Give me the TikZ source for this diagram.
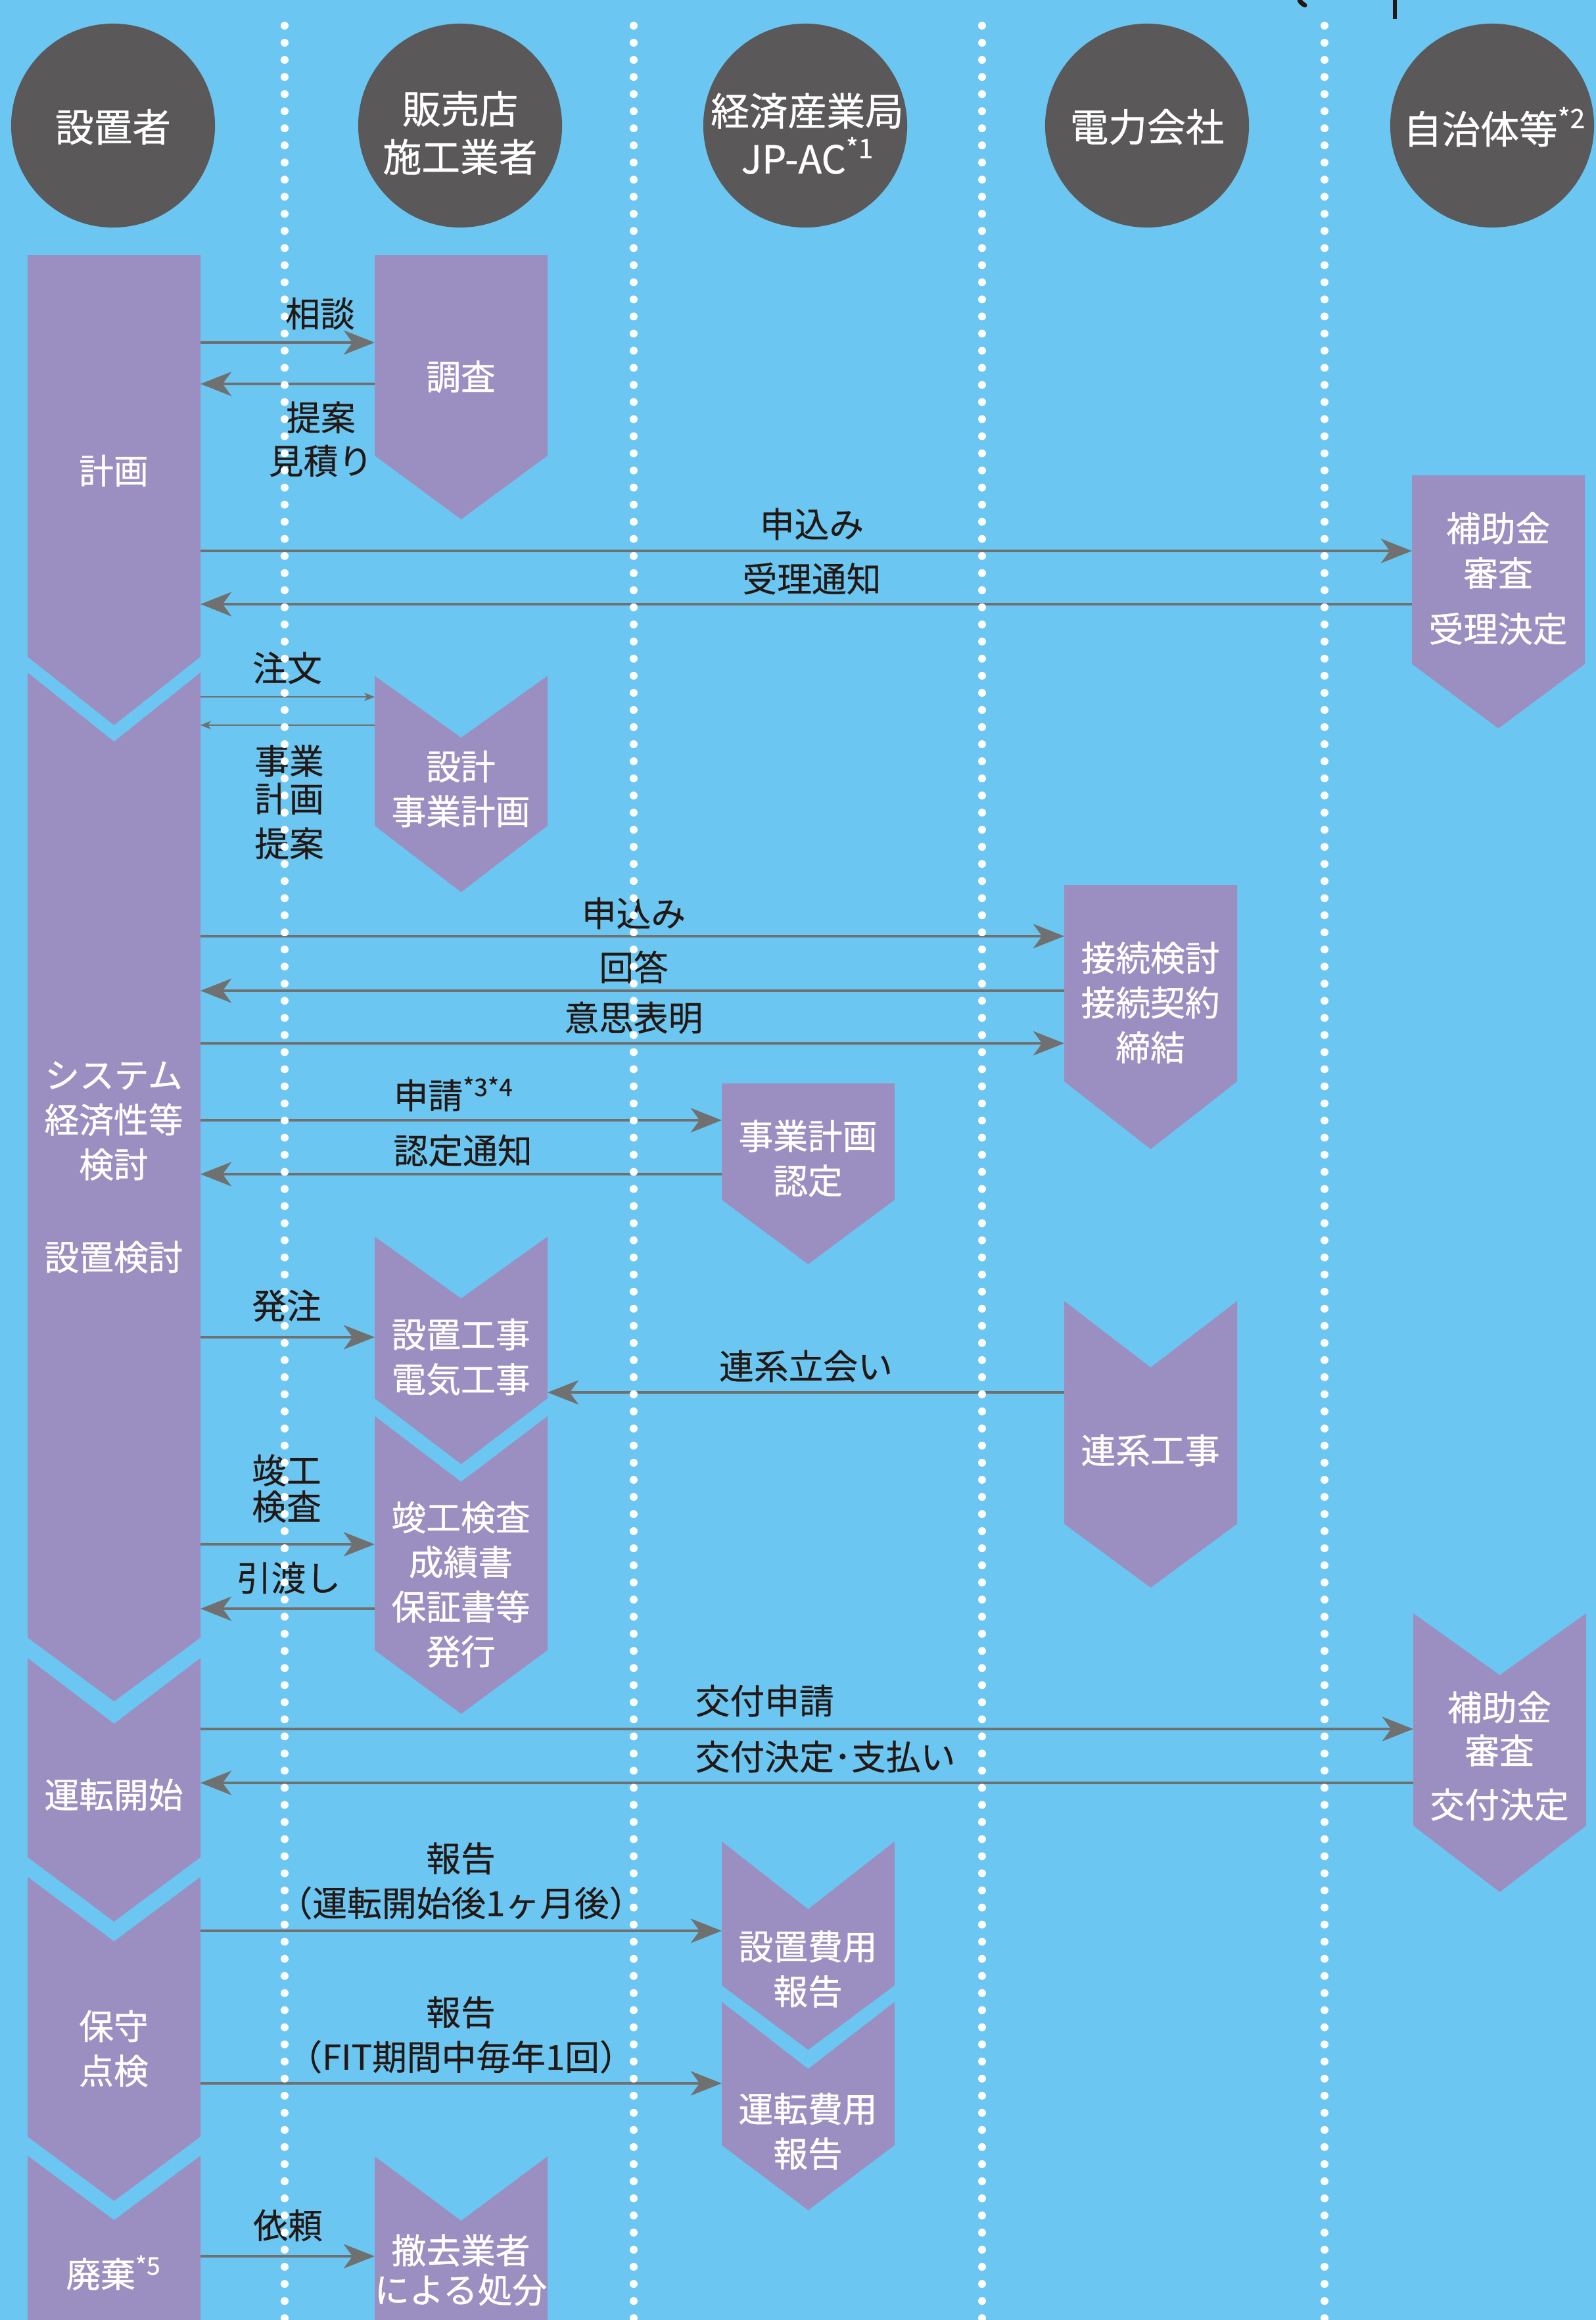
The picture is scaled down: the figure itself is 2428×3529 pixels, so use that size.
\documentclass[tikz,border=0pt]{standalone}
\usepackage{fontspec}
\setmainfont{Noto Sans CJK JP}
\newfontfamily\wfont{Noto Sans CJK JP}[FakeBold=0.7]
\newfontfamily\bfontj{Noto Sans CJK JP}[FakeBold=0.3]
\usetikzlibrary{arrows.meta,calc}
\definecolor{bg}{HTML}{6BC7F1}
\definecolor{purp}{HTML}{9B8FC2}
\definecolor{dark}{HTML}{5A5859}
\definecolor{arrg}{HTML}{707070}
\definecolor{ink}{HTML}{231815}
\newcommand\supl[1]{\raisebox{0.36em}{\fontsize{10.5pt}{10.5pt}\selectfont #1}}
\newcommand\suph[1]{\raisebox{0.4em}{\fontsize{11.5pt}{11.5pt}\selectfont #1}}
% chevron: name, xl, xr, ytop, ybot(sides), notch depth, point depth
\newcommand\chev[7]{%
  \node[body, minimum width={(#3-#2)*0.01cm}, minimum height={(#5-#4)*0.01cm}] (#1) at ({(#2+#3)/2},{(#4+#5)/2}) {};
  \fill[purp] (#1.north west) -- ($(#1.north)+(0,#6)$) -- (#1.north east) -- (#1.south east) -- ($(#1.south)+(0,#7)$) -- (#1.south west) -- cycle;
}
\begin{document}
\begin{tikzpicture}[x=0.01cm,y=-0.01cm,
  body/.style={rectangle, inner sep=0pt, outer sep=0pt, draw=none},
  circ/.style={circle, fill=dark, minimum size=3.1cm, inner sep=0pt},
  htxt/.style={text=white, font=\wfont\fontsize{16.7pt}{20.8pt}\selectfont, align=center, inner sep=0pt},
  wtxt/.style={text=white, font=\wfont\fontsize{15pt}{19.35pt}\selectfont, align=center, inner sep=0pt},
  lab/.style={text=ink, font=\bfontj\fontsize{15pt}{19.35pt}\selectfont, align=center, inner sep=0pt},
  arr/.style={draw=arrg, line width=1.1pt, -{Stealth[length=13.4pt,width=10.5pt,inset=3.8pt]}},
  thinarr/.style={draw=arrg, line width=0.45pt, -{Stealth[length=4.5pt,width=3.6pt,inset=1.2pt]}},
  dotline/.style={white, line width=3.4pt, line cap=round, dash pattern=on 0pt off 7.4pt}
]
\useasboundingbox (0,0) rectangle (2428,3529);
\fill[bg] (0,0) rectangle (2428,3529);

% top marks (cut-off strokes)
\draw[ink, line width=2pt, line cap=round] (1977,0) .. controls (1979,4) .. (1985,8);
\draw[ink, line width=1.8pt] (2122,0) -- (2122,29);

% chevrons
\chev{ca}{42}{305}{388}{999}{0}{104}
\chev{cb}{42}{305}{1023}{2491}{105}{97}
\chev{cc}{42}{305}{2522}{2825}{100}{98}
\chev{cd}{42}{305}{2855}{3250}{98}{98}
\chev{ce}{42}{305}{3279}{3529}{98}{0}
\chev{da}{570}{833}{388}{693}{0}{97}
\chev{db}{570}{833}{1028}{1256}{94}{101}
\chev{dc}{570}{833}{1881}{2127}{94}{100}
\chev{dd}{570}{833}{2154}{2510}{100}{97}
\chev{de}{570}{833}{3280}{3529}{98}{0}
\chev{ea}{1098}{1361}{1648}{1825}{0}{98}
\chev{eb}{1098}{1361}{2801}{3020}{103}{98}
\chev{ec}{1098}{1361}{3045}{3263}{102}{99}
\chev{fa}{1619}{1882}{1346}{1645}{0}{103}
\chev{fb}{1619}{1882}{1979}{2318}{101}{97}
\chev{ga}{2148}{2411}{723}{1010}{0}{98}
\chev{gb}{2150}{2413}{2454}{2777}{94}{101}

% headings
\node[circ] (h1) at (172,191) {};
\node[circ] (h2) at (700,191) {};
\node[circ] (h3) at (1225,191) {};
\node[circ] (h4) at (1745,191) {};
\node[circ] (h5) at (2270,191) {};
\node[htxt] (h1t) at (172,193) {設置者};
\node[htxt] (h2t) at (700,202) {販売店\\施工業者};
\node[htxt] (h3t) at (1228,203) {経済産業局\\JP-AC\suph{*1}};
\node[htxt] (h4t) at (1745,193) {電力会社};
\node[htxt] (h5t) at (2273,193) {自治体等\suph{*2}};

% shape texts
\node[wtxt] (t1) at (173,716) {計画};
\node[wtxt] (t2) at (173,1705) {システム\\経済性等\\検討};
\node[wtxt] (t3) at (173,1912) {設置検討};
\node[wtxt] (t4) at (173,2730) {運転開始};
\node[wtxt] (t5) at (173,3116) {保守\\点検};
\node[wtxt] (t6) at (172,3457) {廃棄\supl{*5}};
\node[wtxt] (u1) at (701,573) {調査};
\node[wtxt] (u2) at (701,1200) {設計\\事業計画};
\node[wtxt] (u3) at (701,2064) {設置工事\\電気工事};
\node[wtxt] (u4) at (701,2410) {竣工検査\\成績書\\保証書等\\発行};
\node[wtxt] (u5) at (701,3453) {撤去業者\\[-2.3pt]による処分};
\node[wtxt] (v1) at (1229,1762) {事業計画\\認定};
\node[wtxt] (v2) at (1229,2995) {設置費用\\報告};
\node[wtxt] (v3) at (1229,3242) {運転費用\\報告};
\node[wtxt] (w1) at (1750,1525) {接続検討\\接続契約\\締結};
\node[wtxt] (w2) at (1750,2206) {連系工事};
\node[wtxt] (x1) at (2279,880) {補助金\\審査\\[4.8pt]受理決定};
\node[wtxt] (x2) at (2281,2671) {補助金\\[-0.6pt]審査\\[4pt]交付決定};

% arrows
\draw[arr] (ca.east |- 0,521) -- (da.west |- 0,521);
\draw[arr] (da.west |- 0,584) -- (ca.east |- 0,584);
\draw[arr] (ca.east |- 0,838) -- (ga.west |- 0,838);
\draw[arr] (ga.west |- 0,919) -- (ca.east |- 0,919);
\draw[thinarr] (cb.east |- 0,1060) -- (db.west |- 0,1060);
\draw[thinarr] (db.west |- 0,1103) -- (cb.east |- 0,1103);
\draw[arr] (cb.east |- 0,1424) -- (fa.west |- 0,1424);
\draw[arr] (fa.west |- 0,1507) -- (cb.east |- 0,1507);
\draw[arr] (cb.east |- 0,1587) -- (fa.west |- 0,1587);
\draw[arr] (cb.east |- 0,1704) -- (ea.west |- 0,1704);
\draw[arr] (ea.west |- 0,1786) -- (cb.east |- 0,1786);
\draw[arr] (cb.east |- 0,2034) -- (dc.west |- 0,2034);
\draw[arr] (fb.west |- 0,2118) -- (dc.east |- 0,2118);
\draw[arr] (cb.east |- 0,2349) -- (dd.west |- 0,2349);
\draw[arr] (dd.west |- 0,2447) -- (cb.east |- 0,2447);
\draw[arr] (cc.east |- 0,2630) -- (gb.west |- 0,2630);
\draw[arr] (gb.west |- 0,2712) -- (cc.east |- 0,2712);
\draw[arr] (cd.east |- 0,2937) -- (eb.west |- 0,2937);
\draw[arr] (cd.east |- 0,3169) -- (ec.west |- 0,3169);
\draw[arr] (ce.east |- 0,3432) -- (de.west |- 0,3432);

% labels
\node[lab] (l1) at (487,477) {相談};
\node[lab] (l2) at (488,668) {提案\\[-0.6pt]見積り};
\node[lab] (l3) at (1235,797) {申込み};
\node[lab] (l4) at (1235,880) {受理通知};
\node[lab] (l5) at (437,1016) {注文};
\node[lab] (l6) at (440,1220) {事業\\[-3pt]計画\\提案};
\node[lab] (l7) at (964,1389) {申込み};
\node[lab] (l8) at (964,1471) {回答};
\node[lab] (l9) at (964,1548) {意思表明};
\node[lab, anchor=west] (l10) at (598,1664) {申請\supl{*3*4}};
\node[lab, anchor=west] (l11) at (598,1750) {認定通知};
\node[lab] (l12) at (436,1986) {発注};
\node[lab] (l13) at (1226,2078) {連系立会い};
\node[lab] (l14) at (436,2264) {竣工\\[-3.7pt]検査};
\node[lab] (l15) at (439,2400) {引渡し};
\node[lab, anchor=west] (l16) at (1057,2587) {交付申請};
\node[lab, anchor=west] (l17) at (1057,2672) {交付決定･支払い};
\node[lab] (l18) at (701,2861) {報告\\（運転開始後1ヶ月後）};
\node[lab] (l19) at (701,3095) {報告\\（FIT期間中毎年1回）};
\node[lab] (l20) at (438,3385) {依頼};

% dotted lane separators
\foreach \xx/\nn in {433/1,964/2,1494/3,2015/4}{
  \coordinate (d\nn t) at (\xx,39);
  \coordinate (d\nn b) at (\xx,3540);
  \draw[dotline] (d\nn t) -- (d\nn b);
}
\end{tikzpicture}
\end{document}
